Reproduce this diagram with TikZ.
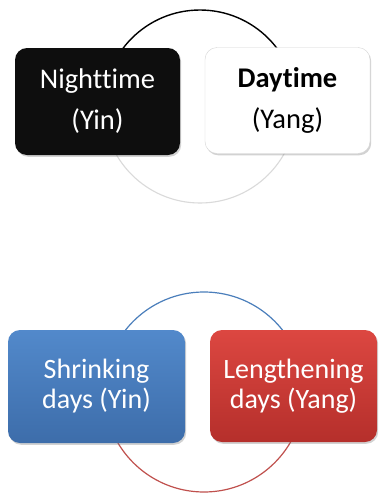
\documentclass[tikz,border=0pt]{standalone}
\usepackage{fontspec}
\setmainfont{Carlito}[Ligatures={NoCommon}]
\usetikzlibrary{shadows}
\definecolor{nightfill}{HTML}{0E0E0E}
\definecolor{dayedge}{HTML}{D4D4D4}
\definecolor{blueTop}{HTML}{5289CB}
\definecolor{blueBot}{HTML}{3D6DAA}
\definecolor{redTop}{HTML}{DC4741}
\definecolor{redBot}{HTML}{B52F2B}
\definecolor{blueArc}{HTML}{4A7EBB}
\definecolor{redArc}{HTML}{C0504D}
\definecolor{paleArc}{HTML}{DADADA}
\begin{document}
\begin{tikzpicture}[x=1pt,y=-1pt,
  card/.style={rectangle, rounded corners=12pt, inner sep=0pt, align=center,
    drop shadow={opacity=0.35, shadow xshift=1.2pt, shadow yshift=-1.8pt}},
  bigtext/.style={font=\fontsize{28.5}{41}\selectfont},
  smalllead/.style={font=\fontsize{28}{30}\selectfont},
  ring/.style={line width=1.4pt}]
\useasboundingbox[fill=white] (0,0) rectangle (378,493);

% upper cycle: ring behind the two cards
\coordinate (c1) at (200,106.5);
\begin{scope}
  \clip (0,0) rectangle (378,106.5);
  \draw[ring, black] (c1) circle[radius=96.5];
\end{scope}
\begin{scope}
  \clip (0,106.5) rectangle (378,260);
  \draw[ring, paleArc, line width=1.1pt] (c1) circle[radius=96.5];
\end{scope}

\node[card, bigtext, fill=nightfill, text=white,
      minimum width=165pt, minimum height=107pt] (night) at (97.5,101.5)
      {Nighttime\\(Yin)};
\node[card, bigtext, fill=white, draw=dayedge, line width=0.4pt, text=black,
      minimum width=165pt, minimum height=106pt] (day) at (287.5,100.5)
      {\textbf{Daytime}\\(Yang)};

% lower cycle
\coordinate (c2) at (204,392);
\begin{scope}
  \clip (0,250) rectangle (378,392);
  \draw[ring, blueArc, line width=1.2pt] (c2) circle[radius=100];
\end{scope}
\begin{scope}
  \clip (0,392) rectangle (378,493);
  \draw[ring, redArc, line width=1.2pt] (c2) circle[radius=100];
\end{scope}

\node[card, smalllead, top color=blueTop, bottom color=blueBot, text=white,
      minimum width=177pt, minimum height=113pt] (shrink) at (96.5,386.5)
      {Shrinking\\days (Yin)};
\node[card, smalllead, top color=redTop, bottom color=redBot, text=white,
      minimum width=167pt, minimum height=112pt] (lengthen) at (293.5,386)
      {Lengthening\\days (Yang)};
\end{tikzpicture}
\end{document}
